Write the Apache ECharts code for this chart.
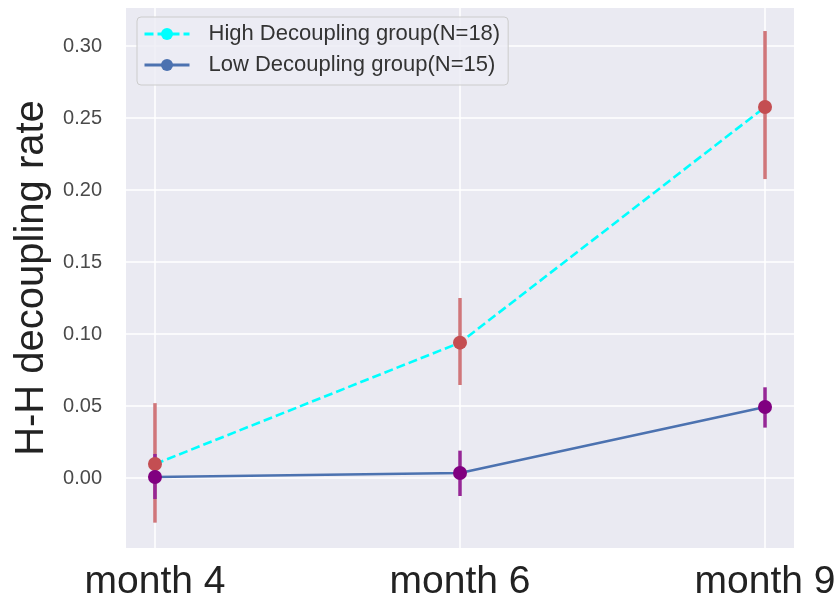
<!DOCTYPE html>
<html>
<head>
<meta charset="utf-8">
<script src="https://cdn.jsdelivr.net/npm/echarts@6/dist/echarts.min.js"></script>
<style>html,body{margin:0;padding:0;background:#fff}#c{width:839px;height:605px}</style>
</head>
<body>
<div id="c"></div>
<script>
// ---- data ----
var categories = ['month 4', 'month 6', 'month 9'];
var yTicks = [0, 0.05, 0.10, 0.15, 0.20, 0.25, 0.30];
var highName = 'High Decoupling group(N=18)';
var lowName = 'Low Decoupling group(N=15)';
var highMean = [0.0097, 0.094, 0.2576];
var highLower = [-0.031, 0.0646, 0.2076];
var highUpper = [0.052, 0.125, 0.3104];
var lowMean = [0.0007, 0.0035, 0.0493];
var lowLower = [-0.0146, -0.0125, 0.035];
var lowUpper = [0.0167, 0.019, 0.063];

var FONT = "'Liberation Sans', Arial, sans-serif";
var xIdx = categories.map(function (c, i) { return i; });

function pts(arr, color) {
  return arr.map(function (v, i) { return { value: [i, v], itemStyle: { color: color } }; });
}
function bars(lo, hi) {
  return lo.map(function (v, i) { return [i, v, hi[i]]; });
}
function errRender(color) {
  return function (params, api) {
    var x = api.value(0);
    var p1 = api.coord([x, api.value(1)]);
    var p2 = api.coord([x, api.value(2)]);
    return { type: 'line', shape: { x1: p1[0], y1: p1[1], x2: p2[0], y2: p2[1] },
      style: { stroke: color, lineWidth: 3.5 } };
  };
}

var chart = echarts.init(document.getElementById('c'), null, { renderer: 'canvas' });
chart.setOption({
  animation: false,
  backgroundColor: '#ffffff',
  textStyle: { fontFamily: FONT },
  grid: { left: 126, right: 45, top: 8, bottom: 57, show: true, backgroundColor: '#eaeaf2', borderWidth: 0 },
  legend: {
    orient: 'vertical', left: 137, top: 17,
    padding: [6, 8, 9, 6], itemGap: 9, itemWidth: 45, itemHeight: 15,
    backgroundColor: 'rgba(236,236,244,0.8)', borderColor: '#cccccc', borderWidth: 1, borderRadius: 4,
    selectedMode: false,
    lineStyle: { width: 3 },
    textStyle: { fontFamily: FONT, fontSize: 22, color: '#333', padding: [0, 0, 0, 14] },
    data: [highName, lowName]
  },
  xAxis: {
    type: 'value', min: -0.095, max: 2.095,
    axisLine: { show: false },
    axisTick: { show: false, customValues: xIdx },
    axisLabel: { customValues: xIdx, margin: 15, fontSize: 39, color: '#222', fontFamily: FONT,
      formatter: function (v) { return categories[Math.round(v)]; } },
    splitLine: { show: true, lineStyle: { color: '#ffffff', width: 1.5 } }
  },
  yAxis: {
    type: 'value', min: -0.0486, max: 0.3264,
    name: 'H-H decoupling rate', nameLocation: 'middle', nameGap: 70,
    nameTextStyle: { fontSize: 40, color: '#222', fontFamily: FONT },
    axisLine: { show: false },
    axisTick: { show: false, customValues: yTicks },
    axisLabel: { customValues: yTicks, margin: 24, fontSize: 20, color: '#4a4a4a', fontFamily: FONT,
      formatter: function (v) { return v.toFixed(2); } },
    splitLine: { show: true, lineStyle: { color: '#ffffff', width: 1.5 } }
  },
  series: [
    { name: 'highErr', type: 'custom', z: 1, renderItem: errRender('#d0767a'),
      encode: { x: 0, y: [1, 2] }, data: bars(highLower, highUpper) },
    { name: 'lowErr', type: 'custom', z: 1, renderItem: errRender('#962796'),
      encode: { x: 0, y: [1, 2] }, data: bars(lowLower, lowUpper) },
    { name: highName, type: 'line', z: 3, symbol: 'circle', symbolSize: 14,
      lineStyle: { color: '#00ffff', width: 2.6, type: [9, 4] },
      itemStyle: { color: '#00ffff' },
      data: pts(highMean, '#c44e52') },
    { name: lowName, type: 'line', z: 4, symbol: 'circle', symbolSize: 14,
      lineStyle: { color: '#4c72b0', width: 2.6 },
      itemStyle: { color: '#4c72b0' },
      data: pts(lowMean, '#800080') }
  ]
});
</script>
</body>
</html>
